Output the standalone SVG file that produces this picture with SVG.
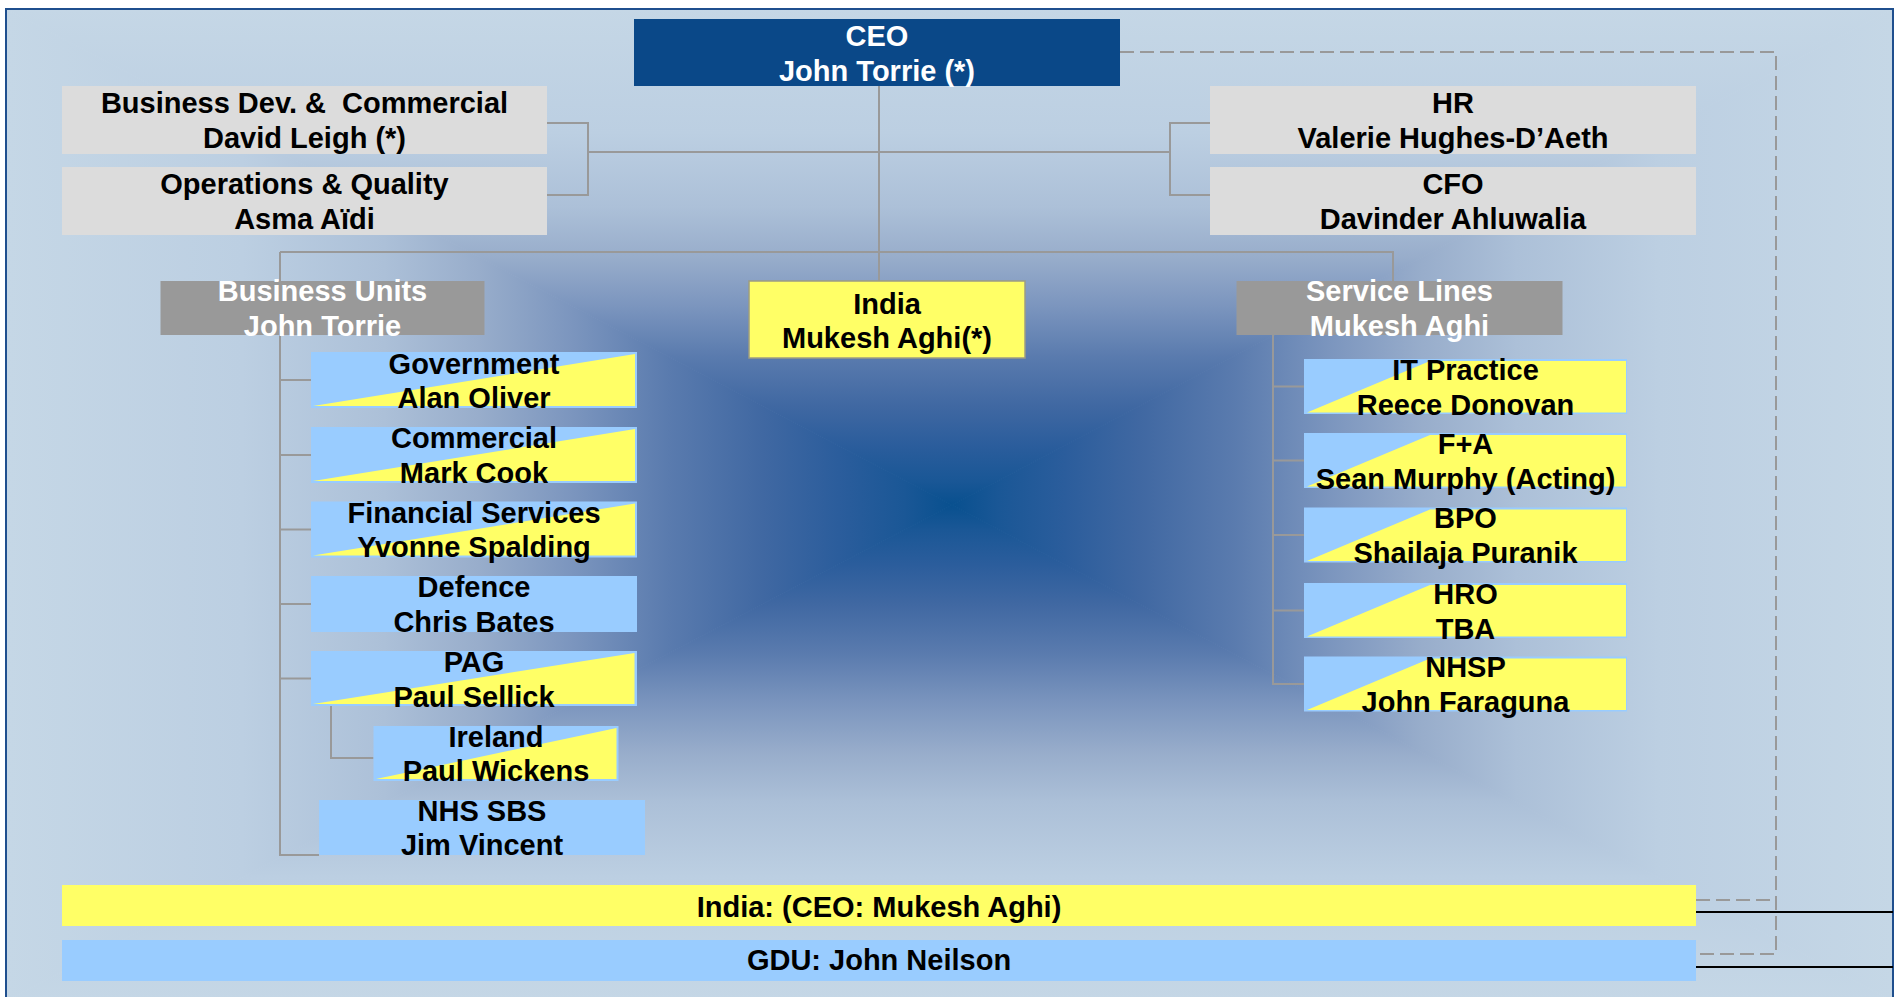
<svg xmlns="http://www.w3.org/2000/svg" width="1895" height="997" viewBox="0 0 1895 997">
<style>
text{font-family:"Liberation Sans",Arial,sans-serif;font-weight:bold;font-size:29px;text-anchor:middle;fill:#000}
.w{fill:#fff}
.staff{fill:#dcdcdc}
.grp{fill:#999999}
.blue{fill:#99ccff}
.yel{fill:#ffff66}
.conn{fill:none;stroke:#999999;stroke-width:2}
.dash{fill:none;stroke:#999999;stroke-width:2;stroke-dasharray:14 6}
.solid{fill:none;stroke:#000;stroke-width:2}
</style>
<defs>
<linearGradient id="gT" gradientUnits="userSpaceOnUse" x1="0" y1="9" x2="0" y2="505">
<stop offset="0" stop-color="#c5d7e6"/><stop offset="0.25" stop-color="#bccfe2"/><stop offset="0.4" stop-color="#acc0d8"/><stop offset="0.5" stop-color="#98adcb"/><stop offset="0.6" stop-color="#7b95be"/><stop offset="0.7" stop-color="#5a7bae"/><stop offset="0.8" stop-color="#4068a2"/><stop offset="0.88" stop-color="#2b5d9c"/><stop offset="0.95" stop-color="#1a5796"/><stop offset="1" stop-color="#08508f"/>
</linearGradient>
<linearGradient id="gB" href="#gT" gradientUnits="userSpaceOnUse" x1="0" y1="1001" x2="0" y2="505"/>
<linearGradient id="gL" href="#gT" gradientUnits="userSpaceOnUse" x1="6" y1="0" x2="952" y2="0"/>
<linearGradient id="gR" href="#gT" gradientUnits="userSpaceOnUse" x1="1893" y1="0" x2="952" y2="0"/>
</defs>

<g id="background">
<polygon points="6,9 1893,9 952,505" fill="url(#gT)" stroke="url(#gT)" stroke-width="1"/>
<polygon points="6,1001 1893,1001 952,505" fill="url(#gB)" stroke="url(#gB)" stroke-width="1"/>
<polygon points="6,9 6,1001 952,505" fill="url(#gL)" stroke="url(#gL)" stroke-width="1"/>
<polygon points="1893,9 1893,1001 952,505" fill="url(#gR)" stroke="url(#gR)" stroke-width="1"/>
<rect x="6" y="9" width="1887" height="1000" fill="none" stroke="#1f4f8e" stroke-width="2"/>
</g>

<g id="connectors">
<path class="conn" d="M879,86 V281"/>
<path class="conn" d="M588,152 H1170"/>
<path class="conn" d="M547,123 H588 V195 H547"/>
<path class="conn" d="M1210,123 H1170 V195 H1210"/>
<path class="conn" d="M280,252 H1393 V281"/>
<path class="conn" d="M280,252 V855 H319"/>
<path class="conn" d="M280,380 H311 M280,455 H311 M280,529.5 H311 M280,604 H311 M280,678.5 H311"/>
<path class="conn" d="M331,706 V758 H373.5"/>
<path class="conn" d="M1273,335 V684 H1304 M1273,386.5 H1304 M1273,460.5 H1304 M1273,535 H1304 M1273,610.5 H1304"/>
<path class="dash" d="M1120,52 H1776 V954 H1696 M1696,900 H1776"/>
<path class="solid" d="M1696,912 H1893 M1696,967 H1893"/>
</g>

<g id="ceo">
<rect x="634" y="19" width="486" height="67" fill="#0a4888"/>
<text class="w" x="877" y="46">CEO</text>
<text class="w" x="877" y="81">John Torrie (*)</text>
</g>

<g id="bizdev">
<rect class="staff" x="62" y="86" width="485" height="68"/>
<text x="304.5" y="112.5" xml:space="preserve">Business Dev. &amp;  Commercial</text>
<text x="304.5" y="147.5">David Leigh (*)</text>
</g>

<g id="operations">
<rect class="staff" x="62" y="167" width="485" height="68"/>
<text x="304.5" y="193.5">Operations &amp; Quality</text>
<text x="304.5" y="228.5">Asma Aïdi</text>
</g>

<g id="hr">
<rect class="staff" x="1210" y="86" width="486" height="68"/>
<text x="1453" y="112.5">HR</text>
<text x="1453" y="147.5">Valerie Hughes-D’Aeth</text>
</g>

<g id="cfo">
<rect class="staff" x="1210" y="167" width="486" height="68"/>
<text x="1453" y="193.5">CFO</text>
<text x="1453" y="228.5">Davinder Ahluwalia</text>
</g>

<g id="business-units">
<rect class="grp" x="160.5" y="281" width="324" height="54"/>
<text class="w" x="322.5" y="301">Business Units</text>
<text class="w" x="322.5" y="336">John Torrie</text>
</g>

<g id="india">
<rect class="yel" x="749" y="281" width="276" height="77" stroke="#9c9c84" stroke-width="1.5"/>
<text x="887" y="313.5">India</text>
<text x="887" y="348">Mukesh Aghi(*)</text>
</g>

<g id="service-lines">
<rect class="grp" x="1236.5" y="281" width="326" height="54"/>
<text class="w" x="1399.5" y="301">Service Lines</text>
<text class="w" x="1399.5" y="336">Mukesh Aghi</text>
</g>

<g id="government">
<rect class="blue" x="311" y="352" width="326" height="56"/>
<polygon class="yel" points="313,406 635,354 635,406"/>
<text x="474" y="373.5">Government</text>
<text x="474" y="408">Alan Oliver</text>
</g>

<g id="commercial">
<rect class="blue" x="311" y="427" width="326" height="56"/>
<polygon class="yel" points="313,481 635,429 635,481"/>
<text x="474" y="448">Commercial</text>
<text x="474" y="482.5">Mark Cook</text>
</g>

<g id="financial-services">
<rect class="blue" x="311" y="501.5" width="326" height="56"/>
<polygon class="yel" points="313,555.5 635,503.5 635,555.5"/>
<text x="474" y="522.5">Financial Services</text>
<text x="474" y="557">Yvonne Spalding</text>
</g>

<g id="defence">
<rect class="blue" x="311" y="576" width="326" height="56"/>
<text x="474" y="597">Defence</text>
<text x="474" y="631.5">Chris Bates</text>
</g>

<g id="pag">
<rect class="blue" x="311" y="651" width="326" height="55"/>
<polygon class="yel" points="313,704 634.5,653 634.5,704"/>
<text x="474" y="671.5">PAG</text>
<text x="474" y="706.5">Paul Sellick</text>
</g>

<g id="ireland">
<rect class="blue" x="373.5" y="726" width="245" height="55"/>
<polygon class="yel" points="376,779 616.5,728 616.5,779"/>
<text x="496" y="747">Ireland</text>
<text x="496" y="781">Paul Wickens</text>
</g>

<g id="nhs-sbs">
<rect class="blue" x="319" y="800" width="326" height="55"/>
<text x="482" y="821">NHS SBS</text>
<text x="482" y="855">Jim Vincent</text>
</g>

<g id="it-practice">
<rect class="blue" x="1304" y="359" width="323" height="55"/>
<polygon class="yel" points="1307,412.5 1430,361 1626,361 1626,412.5"/>
<text x="1465.5" y="379.5">IT Practice</text>
<text x="1465.5" y="414.5">Reece Donovan</text>
</g>

<g id="fa">
<rect class="blue" x="1304" y="433" width="323" height="55"/>
<polygon class="yel" points="1307,486.5 1430,435 1626,435 1626,486.5"/>
<text x="1465.5" y="453.5">F+A</text>
<text x="1465.5" y="488.5">Sean Murphy (Acting)</text>
</g>

<g id="bpo">
<rect class="blue" x="1304" y="507.5" width="323" height="55"/>
<polygon class="yel" points="1307,561 1430,509.5 1626,509.5 1626,561"/>
<text x="1465.5" y="528">BPO</text>
<text x="1465.5" y="563">Shailaja Puranik</text>
</g>

<g id="hro">
<rect class="blue" x="1304" y="583" width="323" height="55"/>
<polygon class="yel" points="1307,636.5 1430,585 1626,585 1626,636.5"/>
<text x="1465.5" y="603.5">HRO</text>
<text x="1465.5" y="638.5">TBA</text>
</g>

<g id="nhsp">
<rect class="blue" x="1304" y="656.5" width="323" height="55"/>
<polygon class="yel" points="1307,710 1430,658.5 1626,658.5 1626,710"/>
<text x="1465.5" y="677">NHSP</text>
<text x="1465.5" y="712">John Faraguna</text>
</g>

<g id="india-bar">
<rect class="yel" x="62" y="885" width="1634" height="41"/>
<text x="879" y="917">India: (CEO: Mukesh Aghi)</text>
</g>

<g id="gdu-bar">
<rect class="blue" x="62" y="940" width="1634" height="41"/>
<text x="879" y="970">GDU: John Neilson</text>
</g>
</svg>
